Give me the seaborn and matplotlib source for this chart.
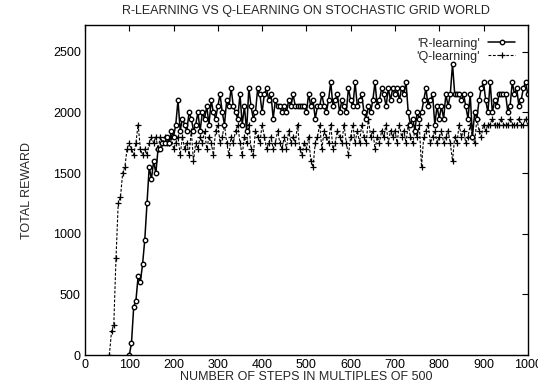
import numpy as np
import pandas as pd
import matplotlib
matplotlib.use("Agg")
import matplotlib.pyplot as plt
import seaborn as sns

r_start, q_start, step = 100, 55, 5
r_values = [
    0, 100, 400, 450, 650, 600, 750, 950, 1250, 1550,
    1450, 1600, 1500, 1700, 1700, 1750, 1750, 1800, 1750, 1850,
    1800, 1900, 2100, 1850, 1950, 1900, 1850, 2000, 1950, 1850,
    1900, 2000, 1850, 2000, 1950, 2050, 1900, 2100, 2000, 1950,
    2050, 2150, 2000, 1900, 2100, 2050, 2200, 2050, 2000, 1950,
    2150, 1900, 2050, 1850, 2200, 2050, 1950, 2000, 2200, 2150,
    2000, 2150, 2200, 2100, 2150, 1950, 2100, 2050, 2050, 2000,
    2050, 2000, 2100, 2050, 2150, 2050, 2050, 2050, 2050, 2050,
    2000, 2150, 2050, 2100, 1950, 2050, 2050, 2150, 2050, 2000,
    2100, 2250, 2050, 2100, 2150, 2000, 2100, 2050, 2000, 2200,
    2100, 2050, 2250, 2050, 2100, 2150, 2000, 1950, 2050, 2000,
    2100, 2250, 2050, 2100, 2200, 2150, 2050, 2200, 2100, 2200,
    2150, 2200, 2100, 2200, 2150, 2250, 2000, 1900, 1950, 1850,
    2000, 1950, 2000, 2100, 2200, 2050, 2100, 2150, 1900, 2050,
    1950, 2050, 1950, 2150, 2050, 2150, 2400, 2150, 2150, 2150,
    2100, 2150, 2050, 1950, 2150, 1800, 2000, 1950, 2100, 2200,
    2250, 2100, 2000, 2250, 2000, 2100, 2050, 2150, 2150, 2150,
    2150, 2000, 2050, 2250, 2150, 2200, 2050, 2100, 2200, 2250,
    2150,
]
q_values = [
    0, 200, 250, 800, 1250, 1300, 1500, 1550, 1700, 1750,
    1700, 1650, 1750, 1900, 1700, 1650, 1700, 1650, 1750, 1800,
    1750, 1800, 1700, 1800, 1750, 1800, 1750, 1750, 1800, 1700,
    1750, 1800, 1650, 1800, 1700, 1750, 1650, 1850, 1600, 1750,
    1700, 1800, 1750, 1850, 1700, 1800, 1750, 1650, 1850, 1900,
    1750, 1800, 1900, 1750, 1650, 1800, 1750, 1850, 1900, 1750,
    1650, 1800, 1750, 1900, 1700, 1650, 1850, 1800, 1750, 1900,
    1800, 1700, 1750, 1800, 1700, 1750, 1850, 1750, 1700, 1800,
    1700, 1850, 1750, 1800, 1750, 1900, 1700, 1650, 1750, 1700,
    1800, 1600, 1550, 1750, 1800, 1900, 1700, 1850, 1800, 1750,
    1900, 1700, 1750, 1850, 1800, 1750, 1900, 1750, 1650, 1800,
    1900, 1750, 1850, 1750, 1900, 1800, 1750, 1950, 1800, 1850,
    1700, 1800, 1750, 1850, 1800, 1900, 1750, 1850, 1800, 1850,
    1750, 1900, 1800, 1850, 1750, 1900, 1800, 1750, 1850, 1800,
    1900, 1550, 1800, 1850, 1900, 1750, 1800, 1850, 1750, 1800,
    1850, 1750, 1800, 1850, 1750, 1600, 1800, 1750, 1900, 1800,
    1850, 1750, 1800, 1900, 1800, 1750, 1950, 1850, 1800, 1900,
    1850, 1900, 1900, 1950, 1900, 1900, 1900, 1950, 1900, 1900,
    1900, 1950, 1900, 1900, 1900, 1950, 1900, 1900, 1950, 1900,
]
r_steps = r_start + step * np.arange(len(r_values))
q_steps = q_start + step * np.arange(len(q_values))

title = "R-LEARNING VS Q-LEARNING ON STOCHASTIC GRID WORLD"
xlabel = "NUMBER OF STEPS IN MULTIPLES OF 500"
ylabel = "TOTAL REWARD"
xticks = list(range(0, 1001, 100))
yticks = list(range(0, 2501, 500))

sns.set_theme(style="white")
plt.rcParams['font.family'] = ['Liberation Sans', 'DejaVu Sans']

fig = plt.figure(figsize=(5.38, 3.92), dpi=100)
ax = fig.add_axes([0.158, 0.094, 0.823, 0.842])

dfr = pd.DataFrame({"x": r_steps, "y": r_values})
dfq = pd.DataFrame({"x": q_steps, "y": q_values})

sns.lineplot(data=dfq, x="x", y="y", ax=ax, color="black", linewidth=0.8,
             linestyle=(0, (2.5, 1.5)), marker="+", markersize=5,
             markeredgecolor="black", markeredgewidth=0.9,
             label="'Q-learning'")
sns.lineplot(data=dfr, x="x", y="y", ax=ax, color="black", linewidth=1.1,
             marker="o", markersize=3.2, markerfacecolor="white",
             markeredgecolor="black", markeredgewidth=1.0,
             label="'R-learning'")

ax.set_xlim(0, 1000)
ax.set_ylim(0, 2720)
ax.set_xticks(xticks)
ax.set_yticks(yticks)
ax.tick_params(direction="in", top=True, right=True, length=4, width=0.8,
               labelsize=9, colors="black", pad=3)
for s in ax.spines.values():
    s.set_color("black")
    s.set_linewidth(1.0)
ax.set_title(title, fontsize=9, pad=8)
ax.set_xlabel(xlabel, fontsize=9, labelpad=0)
ax.set_ylabel(ylabel, fontsize=9, labelpad=14)
handles, labels = ax.get_legend_handles_labels()
leg = ax.legend(handles[::-1], labels[::-1], loc="upper right", frameon=False,
                markerfirst=False, fontsize=9, handlelength=2.2,
                borderaxespad=0.6, labelspacing=0.1, handletextpad=0.6)
fig.savefig("out.png", dpi=100)
